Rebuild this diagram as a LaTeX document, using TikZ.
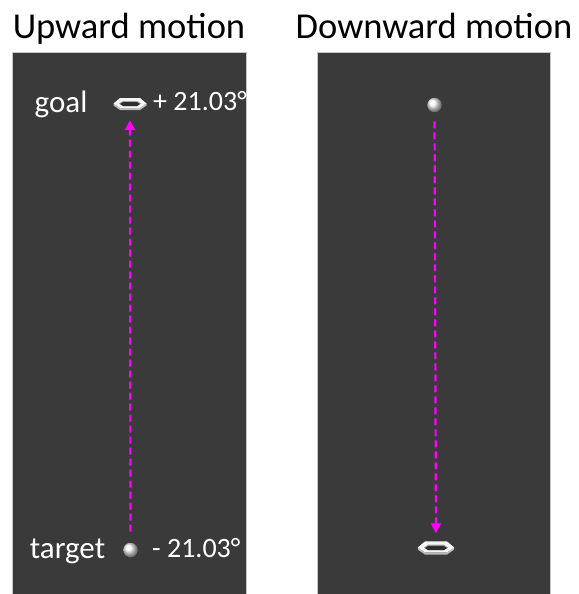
\documentclass[tikz,border=0pt]{standalone}
\usepackage{fontspec}
\setmainfont{Carlito}
\usetikzlibrary{arrows.meta}
\definecolor{panel}{HTML}{3A3A3A}
\definecolor{hole}{HTML}{2E2E2E}
\definecolor{mag}{HTML}{FF00FF}
\tikzset{
  panelbox/.style={fill=panel, draw=gray!45, line width=0.8pt},
  title/.style={font=\fontsize{36.5}{40}\selectfont, text=black, anchor=base, inner sep=0pt},
  lbl/.style={font=\fontsize{31}{34}\selectfont, text=white, anchor=base, inner sep=0pt},
  ang/.style={font=\fontsize{28}{32}\selectfont, text=white, anchor=base west, inner sep=0pt},
  sphere/.style={circle, inner sep=0pt, minimum size=14.5pt, ball color=gray!8, shading=ball},
  ringholder/.style={inner sep=0pt, minimum width=33pt, minimum height=12pt},
  motion/.style={mag, line width=2.2pt, dash pattern=on 7pt off 4pt, -{Triangle[length=10pt,width=10pt]}},
  ring/.pic={
    \fill[gray!55] (-16.5,-0.5) -- (-10,4) -- (10,4) -- (16.5,-0.5) -- (16.5,1.5) -- (10,6) -- (-10,6) -- (-16.5,1.5) -- cycle;
    \fill[white!92!gray] (-16.5,-0.5) -- (-10,-6) -- (10,-6) -- (16.5,-0.5) -- (10,4) -- (-10,4) -- cycle;
    \fill[gray!70] (-11,-0.5) -- (-7,-3) -- (7,-3) -- (11,-0.5) -- (7,2) -- (-7,2) -- cycle;
    \fill[hole] (-10,0) -- (-7,-2) -- (7,-2) -- (10,0) -- (7,2) -- (-7,2) -- cycle;
  }
}
\begin{document}
\begin{tikzpicture}[x=1pt,y=-1pt]
\useasboundingbox (0,0) rectangle (578,594);
\fill[white] (0,0) rectangle (578,594);
% panels
\draw[panelbox] (12.5,52.5) rectangle (246.5,595);
\draw[panelbox] (317,52.5) rectangle (550.5,595);
% titles
\node[title] (t1) at (129,38) {Upward motion};
\node[title] (t2) at (434,38) {Downward motion};
% left panel
\node[lbl] (goal) at (61,112) {goal};
\node[lbl] (target) at (67.5,558) {target};
\node[ringholder] (gL) at (130,104) {};
\pic at (gL) {ring};
\node[sphere] (tL) at (130.5,550) {};
\node[ang] (aU) at (153,110) {+ 21.03°};
\node[ang] (aD) at (152,557) {- 21.03°};
\draw[motion, shorten <=11pt, shorten >=10pt] (tL.north) -- (gL.south);
% right panel
\node[sphere] (sR) at (434.5,105) {};
\node[ringholder, minimum width=37pt, minimum height=13pt] (gR) at (436,548) {};
\pic[scale=1.1] at (gR) {ring};
\draw[motion, shorten <=9pt, shorten >=8pt] (sR.south) -- (gR.north);
\end{tikzpicture}
\end{document}
